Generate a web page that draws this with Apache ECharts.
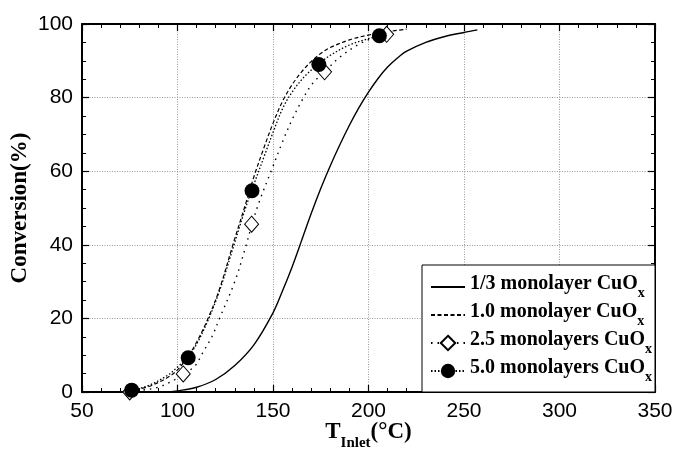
<!DOCTYPE html>
<html><head><meta charset="utf-8">
<script src="https://cdn.jsdelivr.net/npm/echarts@6/dist/echarts.min.js"></script>
<style>html,body{margin:0;padding:0;background:#fff}#c{width:678px;height:456px}</style>
</head><body><div id="c"></div>
<script>
// ---- data ----
const xTickValues = [50, 100, 150, 200, 250, 300, 350];
const yTickValues = [0, 20, 40, 60, 80, 100];
const seriesNames = [
  '1/3 monolayer CuOx',
  '1.0 monolayer CuOx',
  '2.5 monolayers CuOx',
  '5.0 monolayers CuOx'
];
const curve13 = [[95,0],[100,0.3],[110,1.3],[120,3.4],[130,7.2],[140,12.8],[150,21.5],[155,27.5],[160,34],[165,41.2],[170,48.5],[175,55.3],[180,61.5],[185,67.2],[190,72.5],[195,77.3],[200,81.5],[205,85.2],[210,88.3],[215,90.7],[220,92.6],[230,95],[240,96.6],[250,97.7],[257,98.4]];
const curve10 = [[68,0],[75,0.4],[85,1.5],[95,4],[100,6],[105,9.3],[110,13.5],[116,20],[122,28],[129,40],[135,50],[140,58.5],[145,66],[150,73],[155,79],[160,83.5],[165,87],[170,89.8],[175,92],[180,93.6],[190,95.7],[200,97],[210,97.9],[220,98.6]];
const curve25 = [[72,0],[80,0.4],[90,1.3],[98,3.2],[103,4.9],[109,7],[113,10.5],[118,15],[122,20],[130,30],[136,40],[139,45.6],[143,52],[149,60],[155,68],[160,74],[166,80],[171,84],[177,87],[185,91],[195,94.5],[203,96.3],[210,97.2]];
const curve50 = [[70,0],[76,0.5],[85,1.8],[95,4.6],[100,6.8],[105,9.3],[110,13],[116,19.5],[122,27.5],[129,39],[135,49],[139,55],[145,63.5],[150,70.5],[155,77],[160,81.5],[167,86],[174,89.2],[180,91.5],[190,94.3],[200,96],[206,96.8],[212,97.5]];
const markers25 = [[75,0],[103,4.9],[138.8,45.6],[177,87],[209.5,97.2]];
const markers50 = [[76,0.5],[105.6,9.3],[139,54.7],[174,89],[205.7,96.8]];

const serifFont = '"Liberation Serif", "Times New Roman", serif';
const sansFont = '"Liberation Sans", Arial, sans-serif';

function xAxisCfg(pos, main) {
  return {
    type: 'value', position: pos, min: 50, max: 350, interval: 50,
    axisLine: { show: true, onZero: false, lineStyle: { color: '#000', width: 2 } },
    axisTick: { show: true, inside: true, length: 7, lineStyle: { color: '#000', width: 1.2 } },
    minorTick: { show: true, splitNumber: 5, length: 4, lineStyle: { color: '#000', width: 1 } },
    axisLabel: { show: main, color: '#000', fontFamily: sansFont, fontSize: 21, margin: 9,
      customValues: xTickValues },
    splitLine: { show: main, lineStyle: { color: '#999', type: [1, 1.5], width: 1 } },
    minorSplitLine: { show: false },
    name: main ? '{t|T}{s|Inlet}{t|(°C)}' : '',
    nameLocation: 'middle', nameGap: 29, nameMoveOverlap: false,
    nameTextStyle: {
      rich: {
        t: { fontFamily: serifFont, fontWeight: 'bold', fontSize: 23, color: '#000', lineHeight: 30, verticalAlign: 'top' },
        s: { fontFamily: serifFont, fontWeight: 'bold', fontSize: 15, color: '#000', lineHeight: 15, verticalAlign: 'bottom' }
      }
    }
  };
}
function yAxisCfg(pos, main) {
  return {
    type: 'value', position: pos, min: 0, max: 100, interval: 20,
    axisLine: { show: true, onZero: false, lineStyle: { color: '#000', width: 2 } },
    axisTick: { show: true, inside: true, length: 7, lineStyle: { color: '#000', width: 1.2 } },
    minorTick: { show: true, splitNumber: 4, length: 4, lineStyle: { color: '#000', width: 1 } },
    axisLabel: { show: main, color: '#000', fontFamily: sansFont, fontSize: 21, margin: 9,
      customValues: yTickValues },
    splitLine: { show: main, lineStyle: { color: '#999', type: [1, 1.5], width: 1 } },
    minorSplitLine: { show: false },
    name: main ? 'Conversion(%)' : '',
    nameLocation: 'middle', nameGap: 50, nameRotate: 90, nameMoveOverlap: false,
    nameTextStyle: { fontFamily: serifFont, fontWeight: 'bold', fontSize: 23, color: '#000' }
  };
}

const lineStyles = [
  { color: '#000', width: 1.4, type: 'solid' },
  { color: '#000', width: 1.2, type: [4, 2.5] },
  { color: '#000', width: 1.4, type: [1.5, 5] },
  { color: '#000', width: 1.3, type: [1.5, 2] }
];
const curves = [curve13, curve10, curve25, curve50];
const symbols = ['none', 'none', 'diamond', 'circle'];

const series = [];
curves.forEach((c, i) => {
  series.push({
    name: seriesNames[i], type: 'line', xAxisIndex: 0, yAxisIndex: 0,
    data: c, smooth: 0.35, showSymbol: false, symbol: symbols[i], symbolSize: 14,
    itemStyle: i === 2 ? { color: '#fff', borderColor: '#000', borderWidth: 1 } : { color: '#000' },
    lineStyle: lineStyles[i], z: 2, silent: true
  });
});
series.push({
  name: seriesNames[2], type: 'scatter', data: markers25, symbol: 'diamond', symbolSize: [14, 16],
  itemStyle: { color: '#fff', borderColor: '#000', borderWidth: 1, opacity: 1 }, z: 5
});
series.push({
  name: seriesNames[3], type: 'scatter', data: markers50, symbol: 'circle', symbolSize: 15,
  itemStyle: { color: '#000', opacity: 1 }, z: 6
});

const legendData = seriesNames.map((n, i) => i < 2
  ? { name: n, itemStyle: { color: 'rgba(0,0,0,0)', borderWidth: 0, opacity: 0 } }
  : { name: n });

const chart = echarts.init(document.getElementById('c'), null, { renderer: 'canvas' });
chart.setOption({
  animation: false,
  backgroundColor: '#fff',
  grid: { left: 82, right: 23, top: 24, bottom: 64, containLabel: false, outerBoundsMode: 'none' },
  xAxis: [xAxisCfg('bottom', true), xAxisCfg('top', false)],
  yAxis: [yAxisCfg('left', true), yAxisCfg('right', false)],
  legend: {
    data: legendData, orient: 'vertical', right: 23, bottom: 64,
    backgroundColor: '#fff', borderColor: '#000', borderWidth: 1, borderRadius: 0,
    padding: [9, 3, 8, 8], itemGap: 2, itemWidth: 34, itemHeight: 18,
    selectedMode: false, z: 10,
    formatter: n => '{m|' + n.slice(0, -1) + '}{s|' + n.slice(-1) + '}',
    textStyle: {
      rich: {
        m: { fontFamily: serifFont, fontWeight: 'bold', fontSize: 20, color: '#000', lineHeight: 26, verticalAlign: 'top' },
        s: { fontFamily: serifFont, fontWeight: 'bold', fontSize: 14, color: '#000', lineHeight: 11, verticalAlign: 'bottom' }
      }
    }
  },
  series: series
});
</script></body></html>
